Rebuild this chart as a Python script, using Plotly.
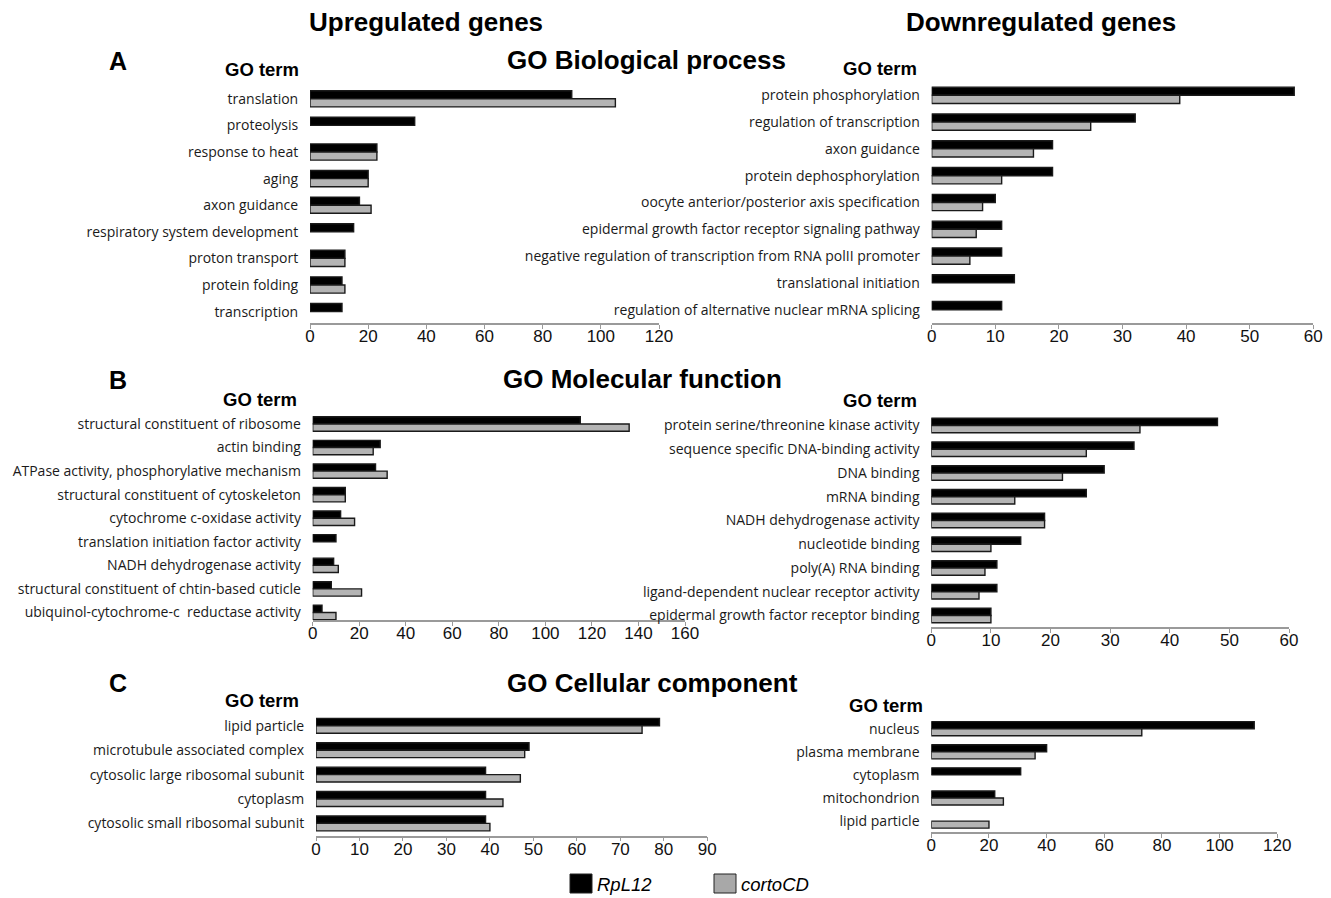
import plotly.graph_objects as go

# ---- data -------------------------------------------------------------
bp_up_terms = ["translation", "proteolysis", "response to heat", "aging", "axon guidance",
               "respiratory system development", "proton transport", "protein folding",
               "transcription"]
bp_up_rpl12 = [90, 36, 23, 20, 17, 15, 12, 11, 11]
bp_up_corto = [105, None, 23, 20, 21, None, 12, 12, None]

bp_down_terms = ["protein phosphorylation", "regulation of transcription", "axon guidance",
                 "protein dephosphorylation", "oocyte anterior/posterior axis specification",
                 "epidermal growth factor receptor signaling pathway",
                 "negative regulation of transcription from RNA polII promoter",
                 "translational initiation", "regulation of alternative nuclear mRNA splicing"]
bp_down_rpl12 = [57, 32, 19, 19, 10, 11, 11, 13, 11]
bp_down_corto = [39, 25, 16, 11, 8, 7, 6, None, None]

mf_up_terms = ["structural constituent of ribosome", "actin binding",
               "ATPase activity, phosphorylative mechanism",
               "structural constituent of cytoskeleton", "cytochrome c-oxidase activity",
               "translation initiation factor activity", "NADH dehydrogenase activity",
               "structural constituent of chtin-based cuticle",
               "ubiquinol-cytochrome-c\u00a0 reductase activity"]
mf_up_rpl12 = [115, 29, 27, 14, 12, 10, 9, 8, 4]
mf_up_corto = [136, 26, 32, 14, 18, None, 11, 21, 10]

mf_down_terms = ["protein serine/threonine kinase activity",
                 "sequence specific DNA-binding activity", "DNA binding", "mRNA binding",
                 "NADH dehydrogenase activity", "nucleotide binding", "poly(A) RNA binding",
                 "ligand-dependent nuclear receptor activity",
                 "epidermal growth factor receptor binding"]
mf_down_rpl12 = [48, 34, 29, 26, 19, 15, 11, 11, 10]
mf_down_corto = [35, 26, 22, 14, 19, 10, 9, 8, 10]

cc_up_terms = ["lipid particle", "microtubule associated complex",
               "cytosolic large ribosomal subunit", "cytoplasm",
               "cytosolic small ribosomal subunit"]
cc_up_rpl12 = [79, 49, 39, 39, 39]
cc_up_corto = [75, 48, 47, 43, 40]

cc_down_terms = ["nucleus", "plasma membrane", "cytoplasm", "mitochondrion", "lipid particle"]
cc_down_rpl12 = [112, 40, 31, 22, None]
cc_down_corto = [73, 36, None, 25, 20]

series_names = ["RpL12", "cortoCD"]

# ---- page geometry ----------------------------------------------------
W, H = 1331, 898
BLACK = "#000000"
GREY = "#b4b4b4"
LABEL_FONT = "Open Sans"
HEAD_FONT = "Liberation Sans"

# each panel: terms, two series, x max, tick step, x0/x1 px, first row centre px,
# row spacing px, axis line px
panels = [
    (bp_up_terms, bp_up_rpl12, bp_up_corto, 120, 20, 310, 659, 98.8, 26.6, 323),
    (bp_down_terms, bp_down_rpl12, bp_down_corto, 60, 10, 931.7, 1313.3, 95.3, 26.8, 323.3),
    (mf_up_terms, mf_up_rpl12, mf_up_corto, 160, 20, 312.7, 685, 424, 23.56, 620),
    (mf_down_terms, mf_down_rpl12, mf_down_corto, 60, 10, 931.3, 1289, 425.5, 23.75, 627.3),
    (cc_up_terms, cc_up_rpl12, cc_up_corto, 90, 10, 316, 707.3, 725.8, 24.4, 835.7),
    (cc_down_terms, cc_down_rpl12, cc_down_corto, 120, 20, 931.3, 1277.3, 728.7, 23.1, 832.3),
]

fig = go.Figure()
layout_axes = {}
for i, (terms, s1, s2, xmax, step, x0, x1, c0, sp, ax_y) in enumerate(panels):
    k = "" if i == 0 else str(i + 1)
    xa, ya = "x" + k, "y" + k
    for vals, name, col in ((s1, series_names[0], BLACK), (s2, series_names[1], GREY)):
        fig.add_trace(go.Bar(
            x=vals, y=terms, orientation="h", name=name, xaxis=xa, yaxis=ya,
            marker=dict(color=col, line=dict(color="#1a1a1a", width=1.4)),
            showlegend=False,
        ))
    top_px = c0 - sp / 2
    layout_axes["xaxis" + k] = dict(
        domain=[x0 / W, x1 / W], anchor=ya, range=[0, xmax],
        tickmode="linear", tick0=0, dtick=step,
        showline=True, linecolor="#9a9a9a", linewidth=1.5,
        ticks="outside", ticklen=4, tickcolor="#9a9a9a", tickwidth=1,
        ticklabelstandoff=-7,
        showgrid=False, zeroline=False, automargin=False,
        tickfont=dict(family=HEAD_FONT, size=17, color="#111"),
        fixedrange=True,
    )
    layout_axes["yaxis" + k] = dict(
        domain=[1 - ax_y / H, 1 - top_px / H], anchor=xa,
        type="category", categoryorder="array", categoryarray=terms,
        range=[(ax_y - c0) / sp, -0.5],
        showline=False, showgrid=False, zeroline=False, automargin=False,
        ticks="outside", ticklen=8, tickcolor="rgba(0,0,0,0)",
        tickfont=dict(family=LABEL_FONT, size=14, color="#1a1a1a"),
        fixedrange=True,
    )

fig.update_layout(**layout_axes)

# ---- headings ---------------------------------------------------------
def text(x, y, s, size, bold=True, italic=False, family=HEAD_FONT, xanchor="center"):
    if bold:
        s = "<b>" + s + "</b>"
    if italic:
        s = "<i>" + s + "</i>"
    fig.add_annotation(x=x / W, y=1 - y / H, xref="paper", yref="paper", text=s,
                       showarrow=False, xanchor=xanchor, yanchor="middle",
                       font=dict(family=family, size=size, color="#000"))

text(426, 22, "Upregulated genes", 26)
text(1041, 22, "Downregulated genes", 26)

text(118, 61, "A", 25)
text(646, 60, "GO Biological process", 26)
text(262, 70, "GO term", 18.5)
text(880, 69, "GO term", 18.5)

text(118, 380, "B", 25)
text(642, 379, "GO Molecular function", 26)
text(260, 399, "GO term", 18.5)
text(880, 400, "GO term", 18.5)

text(118, 683, "C", 25)
text(652, 683, "GO Cellular component", 26)
text(262, 700, "GO term", 18.5)
text(886, 705, "GO term", 18.5)

# ---- legend -----------------------------------------------------------
legend_items = [(570, BLACK, series_names[0]), (714, "#a8a8a8", series_names[1])]
for lx, col, name in legend_items:
    fig.add_shape(type="rect", xref="paper", yref="paper",
                  x0=lx / W, x1=(lx + 22) / W, y0=1 - 893 / H, y1=1 - 874 / H,
                  fillcolor=col, line=dict(color="#222", width=1))
    text(lx + 25, 884, name, 18.5, bold=False, italic=True, xanchor="left")

fig.update_layout(
    width=W, height=H, margin=dict(l=0, r=0, t=0, b=0, autoexpand=False),
    paper_bgcolor="white", plot_bgcolor="white",
    barmode="group", bargap=0.39, bargroupgap=0,
)

fig.write_html("out.html", config={"displayModeBar": False})

# keep the page free of body margins so the figure sits flush in the window
with open("out.html", encoding="utf-8") as fh:
    page = fh.read()
page = page.replace("<body>", '<body style="margin:0;padding:0;overflow:hidden">', 1)
with open("out.html", "w", encoding="utf-8") as fh:
    fh.write(page)
